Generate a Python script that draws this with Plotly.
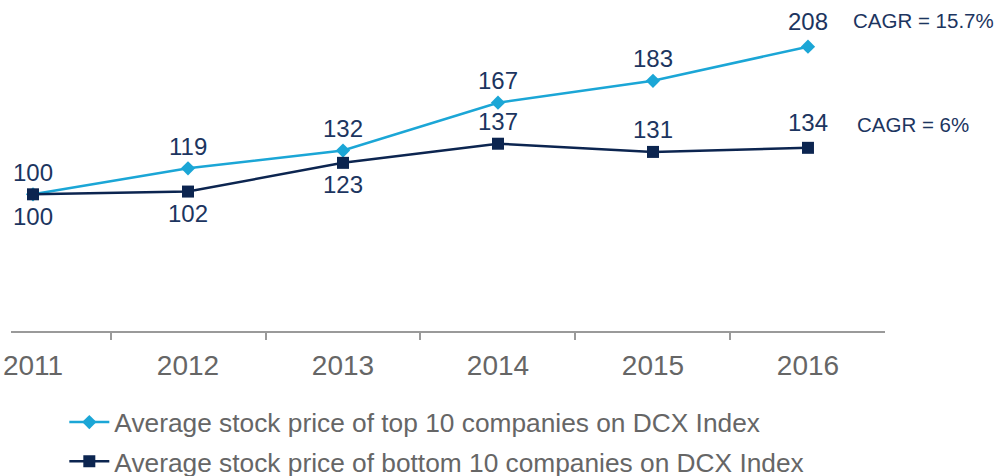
import plotly.graph_objects as go

years = ["2011", "2012", "2013", "2014", "2015", "2016"]
top10 = [100, 119, 132, 167, 183, 208]
bottom10 = [100, 102, 123, 137, 131, 134]
top_name = "Average stock price of top 10 companies on DCX Index"
bottom_name = "Average stock price of bottom 10 companies on DCX Index"
top_cagr = "CAGR = 15.7%"
bottom_cagr = "CAGR = 6%"
# label side per point: +1 above, -1 below
top_side = [1, 1, 1, 1, 1, 1]
bottom_side = [-1, -1, -1, 1, 1, 1]

LIGHT = "#1BA6D6"
NAVY = "#0C2550"
LABEL = "#1C3560"
GRAY = "#666666"
FONT = "Liberation Sans, Arial, sans-serif"

fig = go.Figure()
fig.add_trace(go.Scatter(
    x=list(range(len(years))), y=top10, name=top_name, mode="lines+markers",
    line=dict(color=LIGHT, width=2.5),
    marker=dict(symbol="diamond", size=11, color=LIGHT),
    legendgroup="a", cliponaxis=False,
))
fig.add_trace(go.Scatter(
    x=list(range(len(years))), y=bottom10, name=bottom_name, mode="lines+markers",
    line=dict(color=NAVY, width=2.5),
    marker=dict(symbol="square", size=12, color=NAVY),
    legendgroup="b", cliponaxis=False,
))

for series, sides in ((top10, top_side), (bottom10, bottom_side)):
    for i, (v, s) in enumerate(zip(series, sides)):
        shift = 22 if s > 0 else -22
        if i == len(series) - 1 and s > 0:
            shift = 25
        fig.add_annotation(x=i, y=v, xref="x", yref="y", text=str(v), showarrow=False,
                           xanchor="center", yanchor="middle", yshift=shift,
                           font=dict(family=FONT, size=24, color=LABEL))

n = len(years) - 1
fig.add_annotation(x=n, y=top10[-1], xref="x", yref="y", text=top_cagr,
                   showarrow=False, xanchor="left", yanchor="middle", xshift=43, yshift=26,
                   font=dict(family=FONT, size=20.5, color=LABEL))
fig.add_annotation(x=n, y=bottom10[-1], xref="x", yref="y", text=bottom_cagr,
                   showarrow=False, xanchor="left", yanchor="middle", xshift=47, yshift=23,
                   font=dict(family=FONT, size=20.5, color=LABEL))

fig.update_layout(
    width=1006, height=476,
    margin=dict(l=11, r=121, t=20, b=145, autoexpand=False),
    paper_bgcolor="white", plot_bgcolor="white",
    showlegend=True,
    legend=dict(x=0.061, y=-0.217, xanchor="left", yanchor="top",
                font=dict(family=FONT, size=26.3, color=GRAY),
                traceorder="grouped", tracegroupgap=2, itemwidth=40,
                bgcolor="rgba(0,0,0,0)"),
    xaxis=dict(type="linear", range=[-0.142, 5.497], showgrid=False, zeroline=False,
               automargin=False,
               showline=True, linecolor="#9a9a9a", linewidth=2,
               tickmode="array", tickvals=list(range(len(years))), ticktext=years,
               ticks="", tickfont=dict(family=FONT, size=28, color=GRAY),
               ticklabelstandoff=8,
               minor=dict(tickmode="array", tickvals=[i + 0.5 for i in range(len(years) - 1)],
                          ticks="outside", ticklen=7, tickcolor="#9a9a9a", tickwidth=2,
                          showgrid=False)),
    yaxis=dict(range=[0, 227.5], visible=False, showgrid=False, zeroline=False, automargin=False),
)

fig.write_html("out.html", config={"displayModeBar": False},
               post_script="document.body.style.margin='0';document.body.style.overflow='hidden';")
